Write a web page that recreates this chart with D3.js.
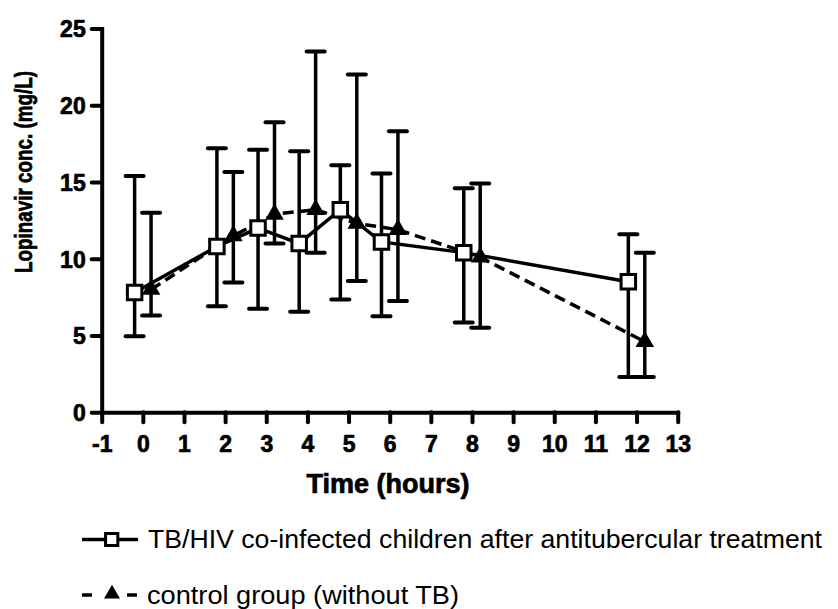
<!DOCTYPE html>
<html>
<head>
<meta charset="utf-8">
<script src="https://cdn.jsdelivr.net/npm/d3@7"></script>
<style>
body{margin:0;background:#fff}
svg text{font-family:"Liberation Sans",Arial,sans-serif}
.heavy{font-weight:bold;stroke:#000;stroke-width:0.7px}
</style>
</head>
<body>
<div class="chart"></div>
<script>
// TB/HIV co-infected group (squares, solid)
const tbTime=[-0.2,1.8,2.8,3.8,4.8,5.8,7.8,11.8]
const tbMean=[7.8,10.8,12.0,11.0,13.2,11.1,10.4,8.5]
const tbHigh=[15.4,17.2,17.1,17.0,16.1,15.55,14.6,11.6]
const tbLow=[4.95,6.9,6.75,6.55,7.35,6.25,5.85,2.3]
// control group (triangles, dashed)
const ctTime=[0.2,2.2,3.2,4.2,5.2,6.2,8.2,12.2]
const ctMean=[8.0,11.5,12.9,13.2,12.3,11.9,10.1,4.6]
const ctHigh=[13.0,15.65,18.9,23.5,22.0,18.3,14.9,10.4]
const ctLow=[6.3,8.45,11.0,10.4,8.55,7.25,5.5,2.3]

const xTicks=d3.range(-1,14)
const yTicks=[0,5,10,15,20,25]
const legendLabels=["TB/HIV co-infected children after antitubercular treatment","control group (without TB)"]

let svg=d3.select('.chart').append('svg').attr('width',838).attr('height',609)
let x=d3.scaleLinear().domain([-1,13]).range([101.7,677.7])
let y=d3.scaleLinear().domain([0,25]).range([412.3,28.5])

let tb=tbTime.map((t,i)=>({t:t,m:tbMean[i],hi:tbHigh[i],lo:tbLow[i]}))
let ct=ctTime.map((t,i)=>({t:t,m:ctMean[i],hi:ctHigh[i],lo:ctLow[i]}))

// axes
let fmt=d=>String(d)
let xaxis=d3.axisBottom(x).tickValues(xTicks).tickFormat(fmt).tickSize(10).tickSizeOuter(0)
let yaxis=d3.axisLeft(y).tickValues(yTicks).tickFormat(fmt).tickSize(10).tickPadding(6).tickSizeOuter(0)
let gx=svg.append('g').attr('transform','translate(0,412.3)').call(xaxis)
let gy=svg.append('g').attr('transform','translate(101.7,0)').call(yaxis)
;[gx,gy].forEach(g=>{
	g.select('.domain').attr('stroke','#000').attr('stroke-width',4).attr('stroke-linecap','square')
	g.selectAll('.tick line').attr('stroke','#000').attr('stroke-width',4).attr('stroke-linecap','round')
	g.selectAll('.tick text').attr('fill','#000').attr('class','heavy').style('font-size','23px')
})
gy.selectAll('.tick text').attr('dy','0.36em')
gx.selectAll('.tick text').attr('y',39.5).attr('dy',0)

svg.append('text').attr('class','heavy').attr('x',388).attr('y',493.3).attr('text-anchor','middle')
	.style('font-size','27px').text('Time (hours)')
svg.append('text').attr('class','heavy').attr('transform','translate(32,172) rotate(-90)').attr('text-anchor','middle')
	.style('font-size','24px').text('Lopinavir conc. (mg/L)')
	.attr('textLength',202).attr('lengthAdjust','spacingAndGlyphs')

function errbars(data){
	let g=svg.append('g').attr('stroke','#000')
	g.selectAll('line.v').data(data).join('line').attr('class','v')
		.attr('x1',d=>x(d.t)).attr('x2',d=>x(d.t))
		.attr('y1',d=>y(d.hi)).attr('y2',d=>y(d.lo)).attr('stroke-width',3.5)
	;['hi','lo'].forEach(k=>{
		g.selectAll('line.'+k).data(data).join('line').attr('class',k)
			.attr('x1',d=>x(d.t)-9).attr('x2',d=>x(d.t)+9)
			.attr('y1',d=>y(d[k])).attr('y2',d=>y(d[k]))
			.attr('stroke-width',4).attr('stroke-linecap','round')
	})
}
errbars(tb)
errbars(ct)

let line=d3.line().x(d=>x(d.t)).y(d=>y(d.m))
svg.append('path').datum(tb).attr('d',line).attr('fill','none').attr('stroke','#000').attr('stroke-width',3.5)
svg.append('path').datum(ct).attr('d',line).attr('fill','none').attr('stroke','#000').attr('stroke-width',3.5)
	.attr('stroke-dasharray','11,6')

let sq=d3.symbol().type(d3.symbolSquare).size(210)
let tri=d3.symbol().type(d3.symbolTriangle).size(150)
svg.selectAll('path.sq').data(tb).join('path').attr('class','sq')
	.attr('transform',d=>`translate(${x(d.t)},${y(d.m)})`).attr('d',sq)
	.attr('fill','#fff').attr('stroke','#000').attr('stroke-width',3)
svg.selectAll('path.tri').data(ct).join('path').attr('class','tri')
	.attr('transform',d=>`translate(${x(d.t)},${y(d.m)})`).attr('d',tri)
	.attr('fill','#000')

// legend
let lg=svg.append('g')
lg.append('line').attr('x1',82).attr('x2',138).attr('y1',539.5).attr('y2',539.5)
	.attr('stroke','#000').attr('stroke-width',3.5)
lg.append('path').attr('transform','translate(111.7,539.5)')
	.attr('d',d3.symbol().type(d3.symbolSquare).size(150)())
	.attr('fill','#fff').attr('stroke','#000').attr('stroke-width',3)
;[[82,92],[127,137]].forEach(s=>{
	lg.append('line').attr('x1',s[0]).attr('x2',s[1]).attr('y1',595).attr('y2',595)
		.attr('stroke','#000').attr('stroke-width',3.5)
})
lg.append('path').attr('transform','translate(112,594)')
	.attr('d',d3.symbol().type(d3.symbolTriangle).size(110)())
	.attr('fill','#000')
lg.append('text').attr('x',148).attr('y',548.3).style('font-size','25px').text(legendLabels[0])
	.attr('textLength',674).attr('lengthAdjust','spacingAndGlyphs')
lg.append('text').attr('x',147).attr('y',603.5).style('font-size','25px').text(legendLabels[1])
	.attr('textLength',312).attr('lengthAdjust','spacingAndGlyphs')
</script>
</body>
</html>
